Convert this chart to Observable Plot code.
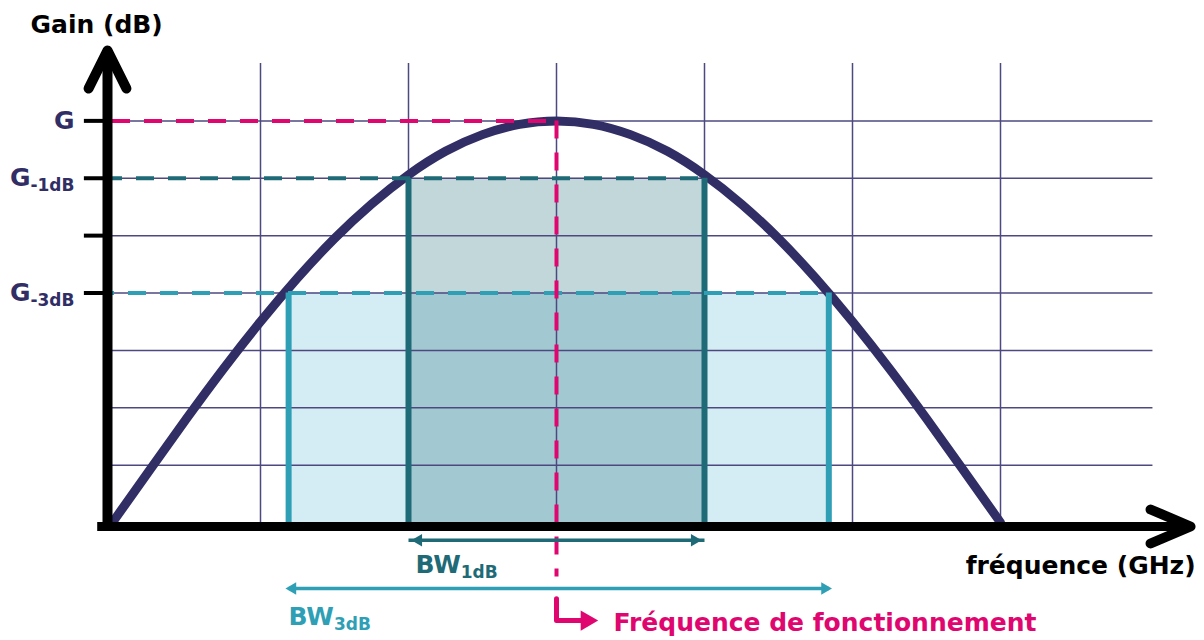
<!DOCTYPE html>
<html><head><meta charset="utf-8">
<script src="https://cdn.jsdelivr.net/npm/d3@7"></script>
<script src="https://cdn.jsdelivr.net/npm/@observablehq/plot@0.6"></script>
<style>html,body{margin:0;padding:0;background:#fff;overflow:hidden}</style>
</head><body><div id="chart"></div>
<script>
// ---- data ----
const freq = [0,0.25,0.5,0.75,1,1.25,1.5,1.75,2,2.25,2.5,2.75,3,3.25,3.5,3.75,4,4.25,4.5,4.75,5,5.25,5.5,5.75,6];
const gain = [0,0.91,1.81,2.68,3.5,4.26,4.95,5.55,6.06,6.47,6.76,6.94,7,6.94,6.76,6.47,6.06,5.55,4.95,4.26,3.5,2.68,1.81,0.91,0];
const gridX = [1,2,3,4,5,6];
const gridY = [1,2,3,4,5,6,7];
const levelValues = [4,5,6,7];
const levelLabels = ["G_-3dB","","G_-1dB","G"];
const f0 = 3;
const gPeak = 7, g1 = 6, g3 = 4;
const bw1 = [2, 4];
const bw3 = [1.19, 4.84];
const bwLabels = ["BW_1dB","BW_3dB"];
const f0Label = "Fréquence de fonctionnement";
const xTitle = "fréquence (GHz)";
const yTitle = "Gain (dB)";

// ---- styles ----
const navy = "#312e66", grid = "#4d4880", pink = "#e0066f";
const teal = "#1f6a77", lightTeal = "#2f9fb6", lightFill = "#d4ecf3";
const FONT = "DejaVu Sans";

const curveData = freq.map((f,i)=>({f, g: gain[i]}));
const yBw1 = -0.31, yBw3 = -1.15, yBendA = -1.33, yBendB = -1.71;

const svg = Plot.plot({
  width: 1204, height: 640,
  marginLeft: 112, marginRight: 56, marginTop: 63, marginBottom: 118,
  x: {domain: [0, 7], axis: null},
  y: {domain: [0, 8], axis: null},
  style: {fontFamily: FONT, background: "#fff", overflow: "visible"},
  marks: [
    Plot.rect([{a: bw3[0], b: bw3[1], top: g3}], {x1: "a", x2: "b", y1: 0, y2: "top", fill: lightFill}),
    Plot.rect([{a: bw1[0], b: bw1[1], top: g1}], {x1: "a", x2: "b", y1: 0, y2: "top", fill: teal, fillOpacity: 0.27}),
    Plot.ruleX(gridX, {y1: 0, y2: 8, stroke: grid, strokeWidth: 1.5}),
    Plot.ruleY(gridY, {x1: 0, x2: 7.03, stroke: grid, strokeWidth: 1.5}),
    Plot.line(curveData, {x: "f", y: "g", curve: "natural", stroke: navy, strokeWidth: 9}),
    Plot.ruleX(bw3, {y1: 0, y2: g3, stroke: lightTeal, strokeWidth: 6}),
    Plot.ruleX(bw1, {y1: 0, y2: g1, stroke: teal, strokeWidth: 6}),
    Plot.ruleY([g3], {x1: 0, x2: bw3[1], stroke: lightTeal, strokeWidth: 4, strokeDasharray: "18,14", strokeDashoffset: 16}),
    Plot.ruleY([g1], {x1: 0, x2: bw1[1], stroke: teal, strokeWidth: 4, strokeDasharray: "18,14", strokeDashoffset: 8}),
    Plot.ruleY([gPeak], {x1: 0, x2: f0, stroke: pink, strokeWidth: 4, strokeDasharray: "18,14"}),
    Plot.ruleX([f0], {y1: gPeak, y2: -0.95, stroke: pink, strokeWidth: 4, strokeDasharray: "18,14"}),
    // axes
    Plot.ruleY([0], {x1: -0.1, x2: 7.25, dy: 4, stroke: "#000", strokeWidth: 9}),
    Plot.line([{x: 7.014, y: 0.296}, {x: 7.284, y: 0}, {x: 7.014, y: -0.296}], {x: "x", y: "y", dy: 4, stroke: "#000", strokeWidth: 10, strokeLinecap: "round", strokeLinejoin: "round"}),
    Plot.ruleX([0], {y1: -0.14, y2: 8.18, dx: -5, stroke: "#000", strokeWidth: 10}),
    Plot.line([{x: -0.128, y: 7.564}, {x: 0, y: 8.227}, {x: 0.128, y: 7.564}], {x: "x", y: "y", dx: -5, stroke: "#000", strokeWidth: 10, strokeLinecap: "round", strokeLinejoin: "round"}),
    Plot.ruleY(levelValues, {x1: -0.19, x2: 0, stroke: "#000", strokeWidth: 4}),
    Plot.text(levelValues, {x: 0, y: d => d, text: (d, i) => levelLabels[i], textAnchor: "end", dx: -38, fill: navy, fontSize: 25, fontWeight: 700}),
    // bandwidth arrows
    Plot.link([{a: bw1[0], b: bw1[1]}], {x1: "a", x2: "b", y1: yBw1, y2: yBw1, stroke: teal, strokeWidth: 3.5}),
    Plot.dot([bw1[0]], {x: d => d, y: yBw1, dx: 10, symbol: "triangle", rotate: -90, r: 4.6, fill: teal, stroke: null}),
    Plot.dot([bw1[1]], {x: d => d, y: yBw1, dx: -10, symbol: "triangle", rotate: 90, r: 4.6, fill: teal, stroke: null}),
    Plot.text([bwLabels[0]], {x: bw1[0], y: yBw1, dx: 7, dy: 25, textAnchor: "start", fill: teal, fontSize: 25, fontWeight: 700}),
    Plot.link([{a: bw3[0], b: bw3[1]}], {x1: "a", x2: "b", y1: yBw3, y2: yBw3, stroke: lightTeal, strokeWidth: 3.5}),
    Plot.dot([bw3[0]], {x: d => d, y: yBw3, dx: 4, symbol: "triangle", rotate: -90, r: 4.6, fill: lightTeal, stroke: null}),
    Plot.dot([bw3[1]], {x: d => d, y: yBw3, dx: -4, symbol: "triangle", rotate: 90, r: 4.6, fill: lightTeal, stroke: null}),
    Plot.text([bwLabels[1]], {x: bw3[0], y: yBw3, dx: 0, dy: 29, textAnchor: "start", fill: lightTeal, fontSize: 25, fontWeight: 700}),
    // operating frequency pointer
    Plot.line([{x: f0, y: yBendA}, {x: f0, y: yBendB}, {x: f0 + 0.21, y: yBendB}], {x: "x", y: "y", stroke: pink, strokeWidth: 5, strokeLinejoin: "round"}),
    Plot.dot([f0 + 0.284], {x: d => d, y: yBendB, dx: -12, symbol: "triangle", rotate: 90, r: 7.5, fill: pink, stroke: null}),
    Plot.text([f0Label], {x: f0, y: yBendB, dx: 57, dy: 2, textAnchor: "start", fill: pink, fontSize: 25, fontWeight: 700}),
    // titles
    Plot.text([xTitle], {x: 7.318, y: 0, dy: 43, textAnchor: "end", fill: "#000", fontSize: 25, fontWeight: 700}),
    Plot.text([yTitle], {x: -0.554, y: 8, dy: -39, textAnchor: "start", fill: "#000", fontSize: 25, fontWeight: 700})
  ]
});

// subscripts
d3.select(svg).selectAll("text").each(function() {
  const t = this.textContent;
  const k = t.indexOf("_");
  if (k < 0) return;
  const sel = d3.select(this);
  sel.text(null);
  sel.append("tspan").text(t.slice(0, k));
  sel.append("tspan").attr("font-size", 17).attr("dy", "0.28em").text(t.slice(k + 1));
});

document.getElementById("chart").appendChild(svg);
</script>
</body></html>
